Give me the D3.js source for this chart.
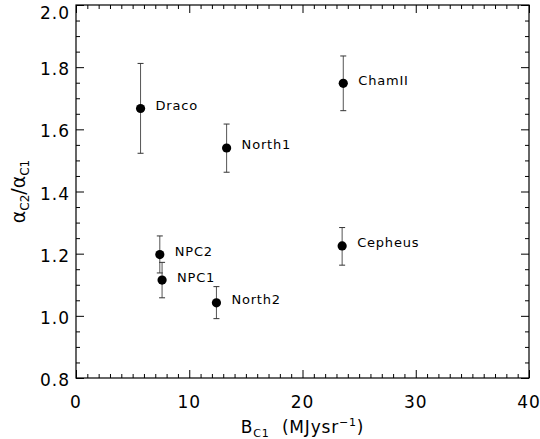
<!DOCTYPE html>
<html>
<head>
<meta charset="UTF-8">
<title>alpha ratio vs B</title>
<script src="https://cdn.jsdelivr.net/npm/d3@7"></script>
<style>
    body { margin: 0; background: #fff; }
    text { font-family: "DejaVu Sans", sans-serif; fill: #000; }
</style>
</head>
<body>
<div id="plot"></div>
<script>
    // data
    const names  = ["Draco", "North1", "NPC2", "NPC1", "North2", "ChamII", "Cepheus"];
    const bc1    = [5.7, 13.3, 7.4, 7.6, 12.4, 23.6, 23.5];
    const ratio  = [1.667, 1.540, 1.197, 1.115, 1.042, 1.748, 1.225];
    const errLo  = [1.523, 1.462, 1.138, 1.058, 0.991, 1.660, 1.163];
    const errHi  = [1.812, 1.617, 1.257, 1.172, 1.094, 1.836, 1.284];

    const xMajor = [0, 10, 20, 30, 40];
    const yMajor = [0.8, 1.0, 1.2, 1.4, 1.6, 1.8, 2.0];

    const W = 540, H = 439;
    const pL = 76, pR = 529, pT = 5, pB = 378;

    const svg = d3.select("#plot").append("svg")
        .attr("width", W).attr("height", H);

    const x = d3.scaleLinear().domain([0, 40]).range([pL, pR]);
    const y = d3.scaleLinear().domain([0.8, 2.0]).range([pB, pT]);

    const xMinor = d3.range(0, 41, 1).filter(d => d % 10 !== 0);
    const yMinor = d3.range(0.8, 2.0001, 0.05).filter(d => Math.abs(d * 5 - Math.round(d * 5)) > 1e-6);

    // tick marks only; ticks point inward on all four sides
    function drawTicks(axisFn, scale, major, minor, transform) {
        [[major, 8], [minor, 4]].forEach(([vals, len]) => {
            const g = svg.append("g").attr("transform", transform)
                .call(axisFn(scale).tickValues(vals).tickSize(len).tickSizeOuter(0).tickFormat(""));
            g.select(".domain").remove();
            g.selectAll("line").attr("stroke", "#000");
        });
    }

    drawTicks(d3.axisTop, x, xMajor, xMinor, `translate(0,${pB})`);
    drawTicks(d3.axisBottom, x, xMajor, xMinor, `translate(0,${pT})`);
    drawTicks(d3.axisRight, y, yMajor, yMinor, `translate(${pL},0)`);
    drawTicks(d3.axisLeft, y, yMajor, yMinor, `translate(${pR},0)`);

    // tick labels
    svg.append("g").selectAll("text").data(xMajor).join("text")
        .attr("x", d => x(d)).attr("y", 402)
        .attr("text-anchor", "middle").attr("dominant-baseline", "central")
        .attr("font-size", 17).attr("letter-spacing", 1).text(d => d);
    svg.append("g").selectAll("text").data(yMajor).join("text")
        .attr("x", 70).attr("y", d => Math.max(y(d) + 2, 13))
        .attr("text-anchor", "end").attr("dominant-baseline", "central")
        .attr("font-size", 17).attr("letter-spacing", 1).text(d => d.toFixed(1));

    // frame
    svg.append("rect")
        .attr("x", pL).attr("y", pT)
        .attr("width", pR - pL).attr("height", pB - pT)
        .attr("fill", "none").attr("stroke", "#000").attr("stroke-width", 1.2);

    // axis titles
    const xt = svg.append("text").attr("x", (pL + pR) / 2).attr("y", 433)
        .attr("text-anchor", "middle").attr("font-size", 17).attr("letter-spacing", 0.8);
    xt.append("tspan").text("B");
    xt.append("tspan").attr("font-size", 11).attr("dy", 4).text("C1");
    xt.append("tspan").attr("dy", -4).text("\u00a0\u00a0(MJysr");
    xt.append("tspan").attr("font-size", 11).attr("dy", -7).text("\u22121");
    xt.append("tspan").attr("dy", 7).text(")");

    const yt = svg.append("text")
        .attr("transform", `translate(25,${(pT + pB) / 2}) rotate(-90)`)
        .attr("text-anchor", "middle").attr("font-size", 19);
    yt.append("tspan").text("\u03b1");
    yt.append("tspan").attr("font-size", 12).attr("dy", 4).text("C2");
    yt.append("tspan").attr("dy", -4).text("/\u03b1");
    yt.append("tspan").attr("font-size", 12).attr("dy", 4).text("C1");

    // points
    const pts = names.map((n, i) => ({name: n, x: bc1[i], y: ratio[i], lo: errLo[i], hi: errHi[i]}));
    const g = svg.append("g");
    const cap = 3;

    g.selectAll(".err").data(pts).join("line").attr("class", "err")
        .attr("x1", d => x(d.x)).attr("x2", d => x(d.x))
        .attr("y1", d => y(d.lo)).attr("y2", d => y(d.hi))
        .attr("stroke", "#555").attr("stroke-width", 1);
    g.selectAll(".capHi").data(pts).join("line").attr("class", "capHi")
        .attr("x1", d => x(d.x) - cap).attr("x2", d => x(d.x) + cap)
        .attr("y1", d => y(d.hi)).attr("y2", d => y(d.hi))
        .attr("stroke", "#333");
    g.selectAll(".capLo").data(pts).join("line").attr("class", "capLo")
        .attr("x1", d => x(d.x) - cap).attr("x2", d => x(d.x) + cap)
        .attr("y1", d => y(d.lo)).attr("y2", d => y(d.lo))
        .attr("stroke", "#333");

    g.selectAll("circle").data(pts).join("circle")
        .attr("cx", d => x(d.x)).attr("cy", d => y(d.y)).attr("r", 4.6)
        .attr("fill", "#000");

    g.selectAll(".lbl").data(pts).join("text").attr("class", "lbl")
        .attr("x", d => x(d.x) + 15).attr("y", d => y(d.y) - 3)
        .attr("dominant-baseline", "central")
        .attr("font-size", 13).attr("letter-spacing", 0.8).text(d => d.name);
</script>
</body>
</html>
